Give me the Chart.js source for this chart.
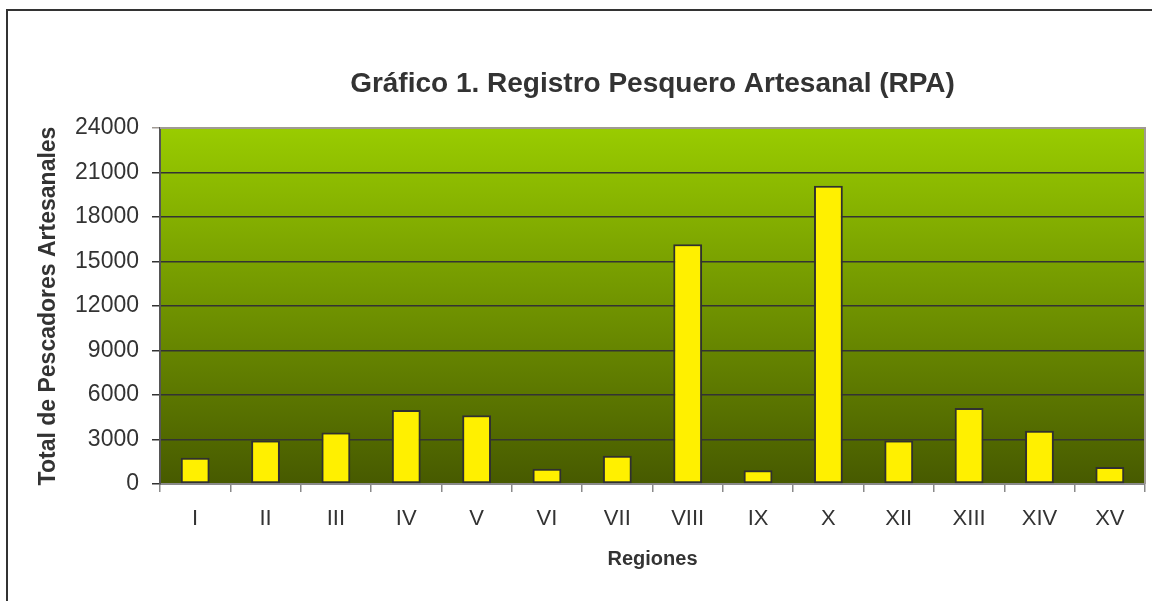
<!DOCTYPE html>
<html>
<head>
<meta charset="utf-8">
<script src="https://cdn.jsdelivr.net/npm/chart.js@4.4.1/dist/chart.umd.min.js"></script>
<style>
  html, body { margin: 0; padding: 0; background: #ffffff; }
  #wrap { width: 1152px; height: 601px; position: relative; }
</style>
</head>
<body>
<div id="wrap"><canvas id="c" width="1152" height="601"></canvas></div>
<script>
const categories = ['I', 'II', 'III', 'IV', 'V', 'VI', 'VII', 'VIII', 'IX', 'X', 'XII', 'XIII', 'XIV', 'XV'];
const pescadores = [1770, 2930, 3480, 4990, 4630, 1030, 1910, 16160, 920, 20110, 2930, 5120, 3590, 1150];
const yTicks = [0, 3000, 6000, 9000, 12000, 15000, 18000, 21000, 24000];
const chartTitle = 'Gráfico 1. Registro Pesquero Artesanal (RPA)';
const yTitle = 'Total de Pescadores Artesanales';
const xTitle = 'Regiones';

const FONT = '"Liberation Sans", Arial, sans-serif';

const decor = {
  id: 'decor',
  beforeDraw(chart) {
    const ctx = chart.ctx;
    const a = chart.chartArea;
    ctx.save();
    ctx.fillStyle = '#ffffff';
    ctx.fillRect(0, 0, chart.width, chart.height);
    ctx.strokeStyle = '#333333';
    ctx.lineWidth = 2;
    ctx.strokeRect(7, 10, chart.width + 20, chart.height + 20);
    const g = ctx.createLinearGradient(0, a.top, 0, a.bottom);
    g.addColorStop(0, '#99CC00');
    g.addColorStop(1, '#475A00');
    ctx.fillStyle = g;
    ctx.fillRect(a.left, a.top, a.right - a.left, a.bottom - a.top);
    ctx.restore();
  },
  afterDraw(chart) {
    const ctx = chart.ctx;
    const a = chart.chartArea;
    ctx.save();
    ctx.strokeStyle = '#a09a94';
    ctx.lineWidth = 2;
    ctx.beginPath();
    ctx.moveTo(a.left, a.top);
    ctx.lineTo(a.right, a.top);
    ctx.lineTo(a.right, a.bottom);
    ctx.stroke();
    ctx.restore();
  }
};

new Chart(document.getElementById('c'), {
  type: 'bar',
  data: {
    labels: categories,
    datasets: [{
      data: pescadores,
      backgroundColor: '#FFF000',
      borderColor: '#303030',
      borderWidth: 2,
      borderSkipped: false,
      categoryPercentage: 1.0,
      barPercentage: 0.41
    }]
  },
  options: {
    responsive: false,
    animation: false,
    devicePixelRatio: 1,
    layout: { padding: { left: 0, right: 7, top: 10, bottom: 0 } },
    plugins: {
      legend: { display: false },
      tooltip: { enabled: false },
      title: {
        display: true,
        fullSize: false,
        text: chartTitle,
        color: '#333333',
        font: { family: FONT, size: 28, weight: 'bold' },
        padding: { top: 57, bottom: 27.4 }
      }
    },
    scales: {
      x: {
        afterFit(s) { s.height = 117; },
        grid: {
          display: true,
          drawOnChartArea: false,
          drawTicks: true,
          tickLength: 8,
          color: '#8a8a8a',
          lineWidth: 1.5,
          offset: true
        },
        border: { display: true, color: '#8a8a8a', width: 2 },
        ticks: {
          color: '#333333',
          font: { family: FONT, size: 22 },
          padding: 14,
          maxRotation: 0,
          autoSkip: false
        },
        title: {
          display: true,
          text: xTitle,
          color: '#333333',
          font: { family: FONT, size: 20, weight: 'bold' },
          padding: { top: 0, bottom: 30 }
        }
      },
      y: {
        min: 0,
        max: 24000,
        afterFit(s) { s.width = 160; },
        afterBuildTicks(s) { s.ticks = yTicks.map(v => ({ value: v })); },
        grid: {
          color: (c) => (c.tick && c.tick.value === 24000) ? '#a09a94' : '#333333',
          lineWidth: 1.5,
          tickLength: 8,
          drawTicks: true
        },
        border: { display: true, color: '#555555', width: 2 },
        ticks: {
          color: '#333333',
          font: { family: FONT, size: 23 },
          padding: 13,
          callback: (v) => String(v)
        },
        title: {
          display: true,
          text: yTitle,
          color: '#333333',
          font: { family: FONT, size: 23, weight: 'bold' },
          padding: { top: 35, bottom: 0 }
        }
      }
    }
  },
  plugins: [decor]
});
</script>
</body>
</html>
